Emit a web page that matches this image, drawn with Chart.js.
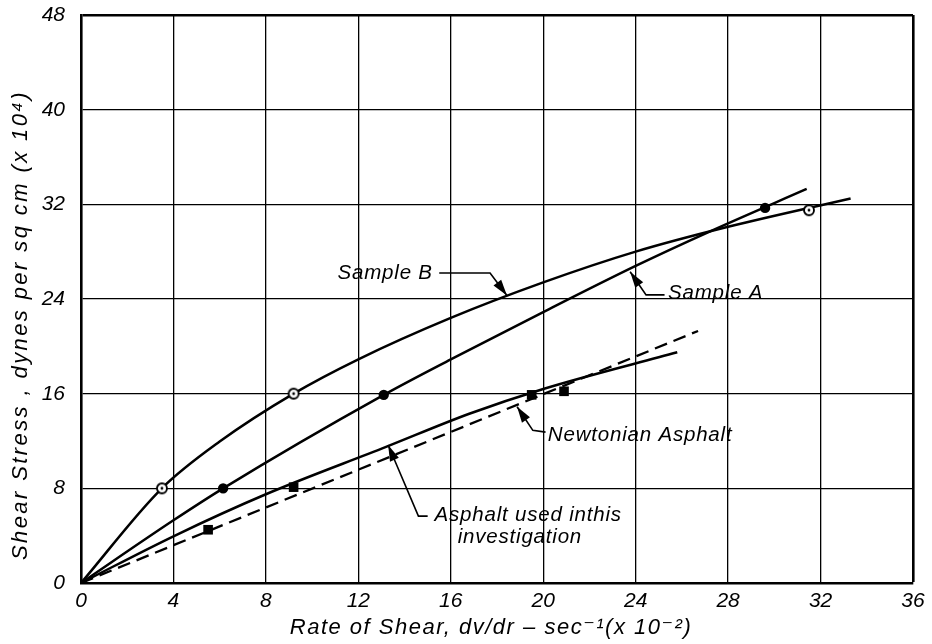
<!DOCTYPE html>
<html>
<head>
<meta charset="utf-8">
<script src="https://cdn.jsdelivr.net/npm/chart.js@4/dist/chart.umd.min.js"></script>
<style>
  html, body { margin: 0; padding: 0; background: #fff; }
  #wrap { width: 932px; height: 644px; position: relative; }
</style>
</head>
<body>
<div id="wrap"><canvas id="c"></canvas></div>
<script>
// Shear stress (x 10^4 dyn/sq cm) against rate of shear (x 10^-2 1/sec)
const xTicks = [0, 4, 8, 12, 16, 20, 24, 28, 32, 36];
const yTicks = [0, 8, 16, 24, 32, 40, 48];

// Sample B: fitted curve and measured points (open circles)
const sampleBCurveX = [0, 3.5, 6, 9.2, 12, 16, 20, 24, 28, 33.3];
const sampleBCurveY = [0, 8, 11.95, 16, 18.9, 22.4, 25.4, 28.0, 30.1, 32.5];
const sampleBPointX = [3.5, 9.2, 31.5];
const sampleBPointY = [8, 16, 31.5];

// Sample A: fitted curve and measured points (filled circles)
const sampleACurveX = [0, 4, 6.15, 13.1, 16, 20, 24, 27.2, 31.4];
const sampleACurveY = [0, 5.3, 8, 15.9, 18.9, 22.9, 26.8, 29.7, 33.3];
const sampleAPointX = [6.15, 13.1, 29.6];
const sampleAPointY = [8, 15.9, 31.7];

// Asphalt used in this investigation: curve and measured points (squares)
const asphaltCurveX = [0, 4, 8, 13.2, 16.8, 20, 25.8];
const asphaltCurveY = [0, 3.95, 7.5, 11.5, 14.3, 16.4, 19.5];
const asphaltPointX = [5.5, 9.2, 19.5, 20.9];
const asphaltPointY = [4.5, 8.1, 15.9, 16.2];

// Newtonian asphalt: straight line (dashed)
const newtonianX = [0, 26.7];
const newtonianY = [0, 21.3];

const FONT = "'Liberation Sans', 'DejaVu Sans', sans-serif";

// Callout labels with their leader lines (data coordinates, arrow at the last point)
const callouts = [
  { lines: ['Sample B'], textAt: [11.1, 26.2], path: [[15.5, 26.2], [17.7, 26.2], [18.43, 24.3]] },
  { lines: ['Sample A'], textAt: [25.4, 24.5], path: [[25.25, 24.35], [24.45, 24.35], [23.76, 26.3]] },
  { lines: ['Newtonian Asphalt'], textAt: [20.2, 12.5], path: [[20.1, 12.75], [19.55, 12.9], [18.87, 14.9]] },
  { lines: ['Asphalt used inthis', 'investigation'], textAt: [15.3, 5.75], indent: [0, 1.0], lineGap: 1.85,
    path: [[15.0, 5.65], [14.6, 5.65], [13.29, 11.66]] }
];

function pts(xs, ys) { return xs.map((x, i) => ({ x: x, y: ys[i] })); }

// Open circle with a centre dot
function openCircle() {
  const c = document.createElement('canvas');
  c.width = 14; c.height = 14;
  const g = c.getContext('2d');
  g.beginPath(); g.arc(7, 7, 5.0, 0, Math.PI * 2);
  g.fillStyle = '#fff'; g.fill();
  g.lineWidth = 1.9; g.strokeStyle = '#000'; g.stroke();
  g.beginPath(); g.arc(7, 7, 1.4, 0, Math.PI * 2);
  g.fillStyle = '#000'; g.fill();
  return c;
}

const calloutPlugin = {
  id: 'callouts',
  afterDatasetsDraw(chart) {
    const ctx = chart.ctx, xs = chart.scales.x, ys = chart.scales.y;
    const X = v => xs.getPixelForValue(v), Y = v => ys.getPixelForValue(v);
    ctx.save();
    ctx.fillStyle = '#000'; ctx.strokeStyle = '#000';
    callouts.forEach(c => {
      const p = c.path.map(q => [X(q[0]), Y(q[1])]);
      ctx.lineWidth = 1.6;
      ctx.beginPath();
      ctx.moveTo(p[0][0], p[0][1]);
      for (let i = 1; i < p.length; i++) ctx.lineTo(p[i][0], p[i][1]);
      ctx.stroke();
      // arrowhead
      const a = p[p.length - 1], b = p[p.length - 2];
      const ang = Math.atan2(a[1] - b[1], a[0] - b[0]);
      const L = 16, W = 4.8;
      ctx.beginPath();
      ctx.moveTo(a[0], a[1]);
      ctx.lineTo(a[0] - L * Math.cos(ang) + W * Math.sin(ang), a[1] - L * Math.sin(ang) - W * Math.cos(ang));
      ctx.lineTo(a[0] - L * Math.cos(ang) - W * Math.sin(ang), a[1] - L * Math.sin(ang) + W * Math.cos(ang));
      ctx.closePath(); ctx.fill();
      // text
      ctx.font = 'italic 20.5px ' + FONT;
      ctx.letterSpacing = '0.8px';
      ctx.textAlign = 'left'; ctx.textBaseline = 'middle';
      c.lines.forEach((t, i) => {
        const dx = c.indent ? c.indent[i] : 0;
        const dy = (c.lineGap || 0) * i;
        ctx.fillText(t, X(c.textAt[0] + dx), Y(c.textAt[1] - dy));
      });
    });
    // axis titles
    ctx.font = 'italic 22px ' + FONT;
    ctx.textAlign = 'center'; ctx.textBaseline = 'middle';
    ctx.letterSpacing = '1.5px';
    ctx.fillText('Rate of Shear, dv/dr \u2013 sec\u207B\u00B9(x 10\u207B\u00B2)', 491, 628);
    ctx.translate(21, 325);
    ctx.rotate(-Math.PI / 2);
    ctx.letterSpacing = '2.4px';
    ctx.fillText('Shear Stress , dynes per sq cm (x 10\u2074)', 0, 0);
    ctx.restore();
  }
};

const gridWidth = edgeValue => ctx => (ctx.tick && ctx.tick.value === edgeValue ? 2.6 : 1.3);
const curve = { borderColor: '#000', borderWidth: 2.5, pointRadius: 0, cubicInterpolationMode: 'monotone', fill: false, order: 1 };

new Chart(document.getElementById('c'), {
  type: 'line',
  data: {
    datasets: [
      { data: pts(sampleBPointX, sampleBPointY), showLine: false, pointStyle: openCircle(), pointRadius: 6, order: 0 },
      { data: pts(sampleAPointX, sampleAPointY), showLine: false, pointStyle: 'circle', pointRadius: 5.2,
        pointBackgroundColor: '#000', pointBorderColor: '#000', pointBorderWidth: 0, order: 0 },
      { data: pts(asphaltPointX, asphaltPointY), showLine: false, pointStyle: 'rect', pointRadius: 6.8,
        pointBackgroundColor: '#000', pointBorderColor: '#000', pointBorderWidth: 0, order: 0 },
      Object.assign({ data: pts(sampleBCurveX, sampleBCurveY) }, curve),
      Object.assign({ data: pts(sampleACurveX, sampleACurveY) }, curve),
      Object.assign({ data: pts(asphaltCurveX, asphaltCurveY) }, curve),
      { data: pts(newtonianX, newtonianY), borderColor: '#000', borderWidth: 2.3, borderDash: [13, 7],
        pointRadius: 0, tension: 0, fill: false, order: 1 }
    ]
  },
  options: {
    responsive: true,
    maintainAspectRatio: false,
    animation: false,
    events: [],
    layout: { padding: { top: 15, right: 19, left: 0, bottom: 0 } },
    plugins: { legend: { display: false }, tooltip: { enabled: false } },
    scales: {
      x: {
        type: 'linear', min: 0, max: 36,
        afterBuildTicks: s => { s.ticks = xTicks.map(v => ({ value: v })); },
        afterFit: s => { s.height = 61; s.paddingLeft = 0; s.paddingRight = 0; },
        ticks: { color: '#000', padding: 6, font: { family: FONT, size: 21, style: 'italic' } },
        grid: { color: '#000', lineWidth: gridWidth(36), drawTicks: false },
        border: { color: '#000', width: 2.6 }
      },
      y: {
        type: 'linear', min: 0, max: 48,
        afterBuildTicks: s => { s.ticks = yTicks.map(v => ({ value: v })); },
        afterFit: s => { s.width = 81; s.paddingTop = 0; s.paddingBottom = 0; },
        ticks: { color: '#000', padding: 16, font: { family: FONT, size: 21, style: 'italic' } },
        grid: { color: '#000', lineWidth: gridWidth(48), drawTicks: false },
        border: { color: '#000', width: 2.6 }
      }
    }
  },
  plugins: [calloutPlugin]
});
</script>
</body>
</html>
